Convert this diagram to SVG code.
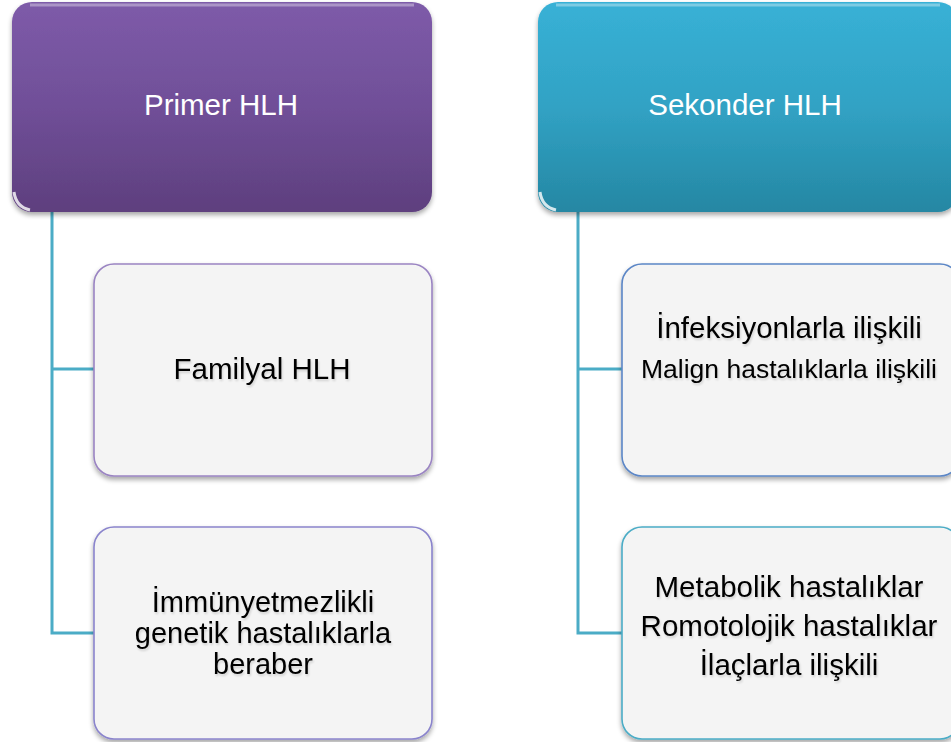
<svg xmlns="http://www.w3.org/2000/svg" width="951" height="742" viewBox="0 0 951 742">
  <defs>
    <linearGradient id="gPurple" x1="0" y1="0" x2="0" y2="1">
      <stop offset="0" stop-color="#7e5ba9"/>
      <stop offset="0.5" stop-color="#704f98"/>
      <stop offset="1" stop-color="#5e3f7e"/>
    </linearGradient>
    <linearGradient id="gTeal" x1="0" y1="0" x2="0" y2="1">
      <stop offset="0" stop-color="#38b1d6"/>
      <stop offset="0.5" stop-color="#31a2c4"/>
      <stop offset="1" stop-color="#2587a3"/>
    </linearGradient>
    <filter id="shadow" x="-10%" y="-10%" width="120%" height="125%">
      <feGaussianBlur in="SourceAlpha" stdDeviation="2.5"/>
      <feOffset dx="0" dy="3" result="b"/>
      <feComponentTransfer><feFuncA type="linear" slope="0.35"/></feComponentTransfer>
      <feMerge><feMergeNode/><feMergeNode in="SourceGraphic"/></feMerge>
    </filter>
    <filter id="tshadow" x="-5%" y="-20%" width="110%" height="140%">
      <feGaussianBlur in="SourceAlpha" stdDeviation="1"/>
      <feOffset dx="1" dy="2" result="b"/>
      <feComponentTransfer><feFuncA type="linear" slope="0.15"/></feComponentTransfer>
      <feMerge><feMergeNode/><feMergeNode in="SourceGraphic"/></feMerge>
    </filter>
  </defs>
  <style>
    .hdr { font-family: "Liberation Sans", Arial, sans-serif; font-size: 29.5px; fill: #ffffff; text-anchor: middle; }
    .txt { font-family: "Liberation Sans", Arial, sans-serif; fill: #000000; text-anchor: middle; }
    .child { fill: #f4f4f4; stroke-width: 1.6; }
    .conn { fill: none; stroke: #4bacc6; stroke-width: 3; }
    .gloss { fill: none; stroke: #ffffff; stroke-opacity: 0.35; stroke-width: 3; }
  </style>

  <g id="connectors">
    <path class="conn" d="M52,212 V633 H94 M52,369 H94"/>
    <path class="conn" d="M578,212 V633 H622 M578,369 H622"/>
  </g>

  <g id="primer">
    <rect x="12" y="2" width="420" height="210" rx="20" fill="url(#gPurple)" filter="url(#shadow)"/>
    <path class="gloss" d="M30,5 H414"/>
    <path d="M14,192 Q16,207 30,210" fill="none" stroke="#ffffff" stroke-opacity="0.8" stroke-width="3"/>
    <text class="hdr" x="221" y="115">Primer HLH</text>
  </g>

  <g id="sekonder">
    <rect x="538" y="2" width="420" height="210" rx="20" fill="url(#gTeal)" filter="url(#shadow)"/>
    <path class="gloss" d="M556,5 H940"/>
    <path d="M540,192 Q542,207 556,210" fill="none" stroke="#ffffff" stroke-opacity="0.8" stroke-width="3"/>
    <text class="hdr" x="745" y="115">Sekonder HLH</text>
  </g>

  <g id="familyal">
    <rect class="child" x="94" y="264" width="338" height="212" rx="20" stroke="#9a84c2" filter="url(#shadow)"/>
    <text class="txt" x="262" y="379" font-size="29.5" filter="url(#tshadow)">Familyal HLH</text>
  </g>

  <g id="immun">
    <rect class="child" x="94" y="527" width="338" height="212" rx="20" stroke="#8a84cc" filter="url(#shadow)"/>
    <text class="txt" x="263" y="612" font-size="29" filter="url(#tshadow)">İmmünyetmezlikli</text>
    <text class="txt" x="263" y="643" font-size="29" filter="url(#tshadow)">genetik hastalıklarla</text>
    <text class="txt" x="263" y="674" font-size="29" filter="url(#tshadow)">beraber</text>
  </g>

  <g id="infeksiyon">
    <rect class="child" x="622" y="264" width="338" height="212" rx="20" stroke="#5b86c6" filter="url(#shadow)"/>
    <text class="txt" x="789" y="338" font-size="29.5" filter="url(#tshadow)">İnfeksiyonlarla ilişkili</text>
    <text class="txt" x="789" y="378" font-size="26.5" filter="url(#tshadow)">Malign hastalıklarla ilişkili</text>
  </g>

  <g id="metabolik">
    <rect class="child" x="622" y="527" width="338" height="212" rx="20" stroke="#4bacc6" filter="url(#shadow)"/>
    <text class="txt" x="789" y="597" font-size="29.5" filter="url(#tshadow)">Metabolik hastalıklar</text>
    <text class="txt" x="789" y="636" font-size="29.5" filter="url(#tshadow)">Romotolojik hastalıklar</text>
    <text class="txt" x="789" y="675" font-size="29.5" filter="url(#tshadow)">İlaçlarla ilişkili</text>
  </g>
</svg>
